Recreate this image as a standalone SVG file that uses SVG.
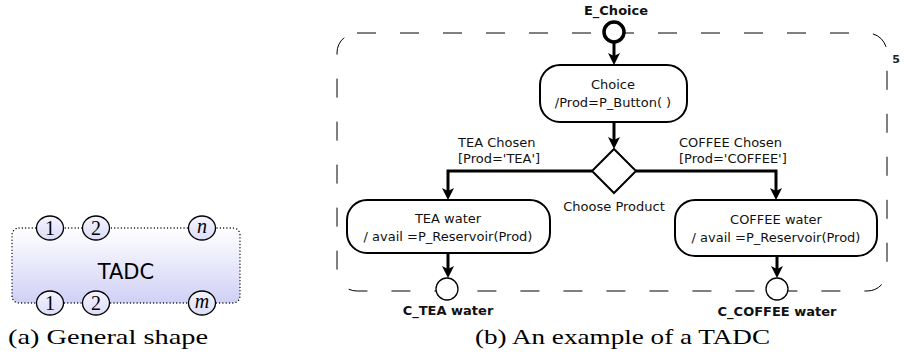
<svg xmlns="http://www.w3.org/2000/svg" width="908" height="360" viewBox="0 0 908 360">
<defs>
<linearGradient id="g" x1="0" y1="0" x2="0" y2="1">
<stop offset="0" stop-color="#ffffff"/>
<stop offset="1" stop-color="#d0d0f6"/>
</linearGradient>
<linearGradient id="gc" x1="0" y1="0" x2="0" y2="1">
<stop offset="0" stop-color="#f4f4fe"/>
<stop offset="1" stop-color="#dcdcf8"/>
</linearGradient>
<marker id="arr" viewBox="0 0 12 12" refX="6" refY="6" markerWidth="12" markerHeight="12" markerUnits="userSpaceOnUse" orient="auto">
<path d="M0,0 L12,6 L0,12 L3,6 z" fill="#000"/>
</marker>
<style>
.node{fill:#fff;stroke:#000;stroke-width:2}
.t{font-family:"DejaVu Sans",sans-serif;font-size:13px;fill:#111;text-anchor:middle}
.tl{font-family:"DejaVu Sans",sans-serif;font-size:13px;fill:#111}
.b{font-family:"DejaVu Sans",sans-serif;font-size:13px;font-weight:bold;fill:#111;text-anchor:middle}
.conn{fill:none;stroke:#000;stroke-width:3;marker-end:url(#arr)}
.port{fill:url(#gc);stroke:#000;stroke-width:1.3}
.pt{font-family:"Liberation Serif",serif;font-size:20px;fill:#000;text-anchor:middle}
.cap{font-family:"Liberation Serif",serif;font-size:22px;fill:#000}
</style>
</defs>
<rect width="908" height="360" fill="#fff"/>

<!-- (a) General shape -->
<g id="general-shape">
<rect x="12" y="228" width="228" height="75" rx="7" fill="url(#g)" stroke="#000" stroke-width="1.3" stroke-dasharray="0.1 3.2" stroke-linecap="round"/>
<text x="126" y="279" style="font-family:'DejaVu Sans',sans-serif;font-size:21px;text-anchor:middle;fill:#000">TADC</text>
<ellipse class="port" cx="50" cy="228" rx="13.5" ry="12"/>
<text class="pt" x="50" y="235">1</text>
<ellipse class="port" cx="96" cy="228" rx="13.5" ry="12"/>
<text class="pt" x="96" y="235">2</text>
<ellipse class="port" cx="202" cy="228" rx="13.5" ry="12"/>
<text class="pt" x="202" y="233" font-style="italic">n</text>
<ellipse class="port" cx="50" cy="303" rx="13.5" ry="12"/>
<text class="pt" x="50" y="310">1</text>
<ellipse class="port" cx="96" cy="303" rx="13.5" ry="12"/>
<text class="pt" x="96" y="310">2</text>
<ellipse class="port" cx="202" cy="303" rx="13.5" ry="12"/>
<text class="pt" x="202" y="308" font-style="italic">m</text>
</g>
<text class="cap" x="8" y="344" textLength="200" lengthAdjust="spacingAndGlyphs">(a) General shape</text>

<!-- (b) example -->
<g id="tadc-frame">
<rect x="337" y="33" width="550" height="258" rx="20" fill="none" stroke="#000" stroke-width="1" stroke-dasharray="19 24"/>
<text x="896" y="63" style="font-family:'DejaVu Sans',sans-serif;font-size:11px;font-weight:bold;fill:#222;text-anchor:middle">5</text>
</g>

<g id="e-choice">
<circle cx="614" cy="32" r="10" fill="#fff" stroke="#000" stroke-width="3.5"/>
<text class="b" x="616" y="15">E_Choice</text>
</g>

<g id="choice">
<rect class="node" x="540" y="65" width="147" height="57" rx="20"/>
<text class="t" x="613" y="89">Choice</text>
<text class="t" x="613" y="107">/Prod=P_Button( )</text>
</g>

<g id="choose-product">
<polygon class="node" points="614,149 636,171 614,193 592,171"/>
<text class="t" x="614" y="211">Choose Product</text>
</g>

<g id="tea-water">
<rect class="node" x="347" y="200" width="203" height="53" rx="20"/>
<text class="t" x="448" y="223">TEA water</text>
<text class="t" x="448" y="241">/ avail =P_Reservoir(Prod)</text>
</g>

<g id="coffee-water">
<rect class="node" x="675" y="200" width="202" height="56" rx="20"/>
<text class="t" x="776" y="224">COFFEE water</text>
<text class="t" x="776" y="242">/ avail =P_Reservoir(Prod)</text>
</g>

<g id="c-tea">
<circle cx="447" cy="289" r="11" fill="#fff" stroke="#000" stroke-width="1.3"/>
<text class="b" x="448" y="315">C_TEA water</text>
</g>

<g id="c-coffee">
<circle cx="777" cy="289" r="11" fill="#fff" stroke="#000" stroke-width="1.3"/>
<text class="b" x="777" y="316">C_COFFEE water</text>
</g>

<g id="connectors">
<path class="conn" d="M614,43 V59"/>
<path class="conn" d="M614,122 V143"/>
<path class="conn" d="M592,171 H448 V194"/>
<path class="conn" d="M636,171 H776 V194"/>
<path class="conn" d="M448,253 V272"/>
<path class="conn" d="M777,256 V272"/>
<text class="tl" x="458" y="147">TEA Chosen</text>
<text class="tl" x="458" y="163">[Prod='TEA']</text>
<text class="tl" x="679" y="147">COFFEE Chosen</text>
<text class="tl" x="679" y="163">[Prod='COFFEE']</text>
</g>
<text class="cap" x="475" y="344" textLength="295" lengthAdjust="spacingAndGlyphs">(b) An example of a TADC</text>
</svg>
